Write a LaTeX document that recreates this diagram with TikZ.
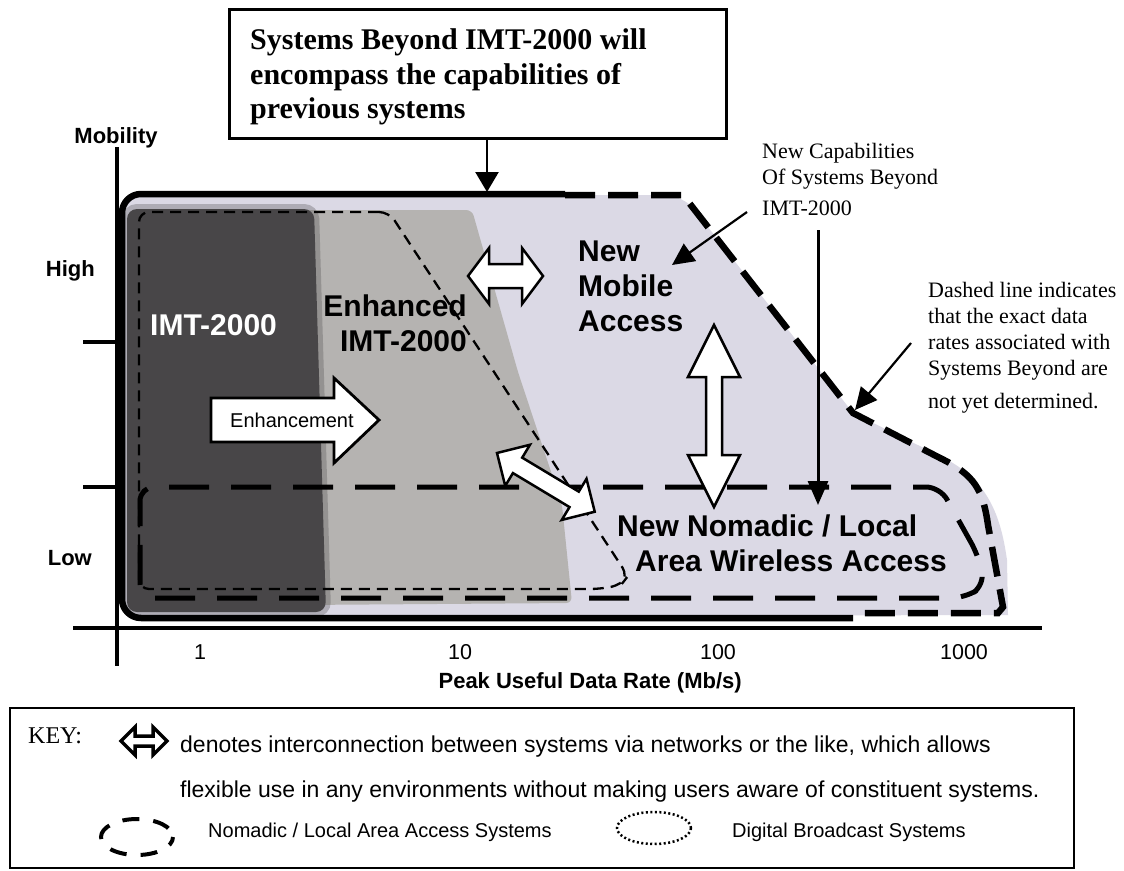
\documentclass[tikz,border=0pt]{standalone}
\usepackage{fontspec}
\setmainfont{Liberation Sans}
\newfontfamily\tnr{Liberation Serif}
\usetikzlibrary{arrows.meta}
\newcommand{\myfs}[2]{\fontsize{#1}{#2}\selectfont}
\definecolor{lightfill}{RGB}{219,217,229}
\definecolor{midgrey}{RGB}{181,179,177}
\definecolor{darkgrey}{RGB}{72,70,72}
\begin{document}
\begin{tikzpicture}[x=1pt,y=-1pt,
  lbl/.style={inner sep=0pt},
  hollow/.style={draw=black, fill=white, line join=miter},
  framesolid/.style={line width=6.5pt},
  outerdash/.style={line width=6.5pt, dash pattern=on 30pt off 13pt},
  nomdash/.style={line width=5pt, dash pattern=on 40pt off 22pt},
  enhdash/.style={line width=2.3pt, dash pattern=on 11pt off 7pt},
  axis/.style={line width=4pt},
  pointer/.style={line width=2.2pt, -{Triangle[length=22pt,width=21pt]}},
  bigsans/.style={lbl, font=\bfseries\myfs{30}{35}},
  serifnote/.style={lbl, font=\tnr\myfs{22}{26}, align=left, anchor=north west},
  axlbl/.style={lbl, font=\bfseries\myfs{22}{26}},
  ticklbl/.style={lbl, font=\myfs{21.5}{26}, anchor=base},
  keytxt/.style={lbl, font=\myfs{20}{24}, anchor=base west},
  keybig/.style={lbl, font=\myfs{23}{27}, anchor=base west},
  pics/dblarr/.style args={#1/#2/#3/#4}{code={%
    \draw[hollow] (0,0) -- (#4,#3) -- (#4,#2) -- ({#1-#4},#2) -- ({#1-#4},#3) -- (#1,0)
      -- ({#1-#4},-#3) -- ({#1-#4},-#2) -- (#4,-#2) -- (#4,-#3) -- cycle;}}
]
\useasboundingbox (0,0) rectangle (1124,870);
\fill[white] (0,0) rectangle (1124,870);

% ---------- shaded regions ----------
\fill[lightfill] (122,420) [rounded corners=18] -- (122,195) -- (683,195) [sharp corners] -- (853,413)
  -- (940,456) .. controls (985,478) and (1000,510) .. (1007,560) -- (1008,615) [rounded corners=18] -- (122,617) -- cycle;
\fill[midgrey, rounded corners=6] (300,210) -- (472,210) -- (518,372) -- (562,505) -- (572,603) -- (300,605) -- cycle;
\draw[darkgrey, line width=10pt, opacity=0.3, rounded corners=10] (127,209) -- (314,209) -- (326,612) -- (127,612) -- cycle;
\fill[darkgrey, rounded corners=10] (127,209) -- (314,209) -- (326,612) -- (127,612) -- cycle;

% ---------- region boundaries ----------
\draw[enhdash, rounded corners=10] (389,212) -- (139,212) -- (139,589) -- (600,589) -- (621,585) -- (628,576) -- cycle;
\draw[nomdash, rounded corners=14] (140,540) -- (140,487) -- (940,487) -- (978,555) -- (985,585) -- (965,598) -- (140,598) -- cycle;
\draw[framesolid, rounded corners=19] (565,194) -- (122,194) -- (122,618) -- (853,618);
\draw[outerdash] (565,195) -- (683,195) -- (853,413) -- (940,458)
  .. controls (975,475) and (983,490) .. (988,525) -- (1003,607) -- (998,613) -- (860,613);

% ---------- axes ----------
\draw[axis] (117,147) -- (117,666);
\draw[axis] (73,628) -- (1042,628);
\draw[axis] (83,342) -- (117,342);
\draw[axis] (83,487) -- (117,487);
\node[axlbl, anchor=base] (mob) at (116,143) {Mobility};
\node[axlbl, anchor=base east] (high) at (95,276) {High};
\node[axlbl, anchor=base east] (low) at (92,565) {Low};
\node[ticklbl] (t1) at (200,659) {1};
\node[ticklbl] (t10) at (460,659) {10};
\node[ticklbl] (t100) at (718,659) {100};
\node[ticklbl] (t1000) at (964,659) {1000};
\node[axlbl, anchor=base east] (xlab) at (742,688) {Peak Useful Data Rate (Mb/s)};

% ---------- region labels ----------
\node[bigsans, anchor=base west, text=white] (imt) at (150,335) {IMT-2000};
\node[bigsans, anchor=north east, align=right] (enh) at (467,295) {Enhanced\\IMT-2000};
\node[bigsans, anchor=north west, align=left] (nma) at (578,240.5) {New\\Mobile\\Access};
\node[bigsans, anchor=north west, align=left] (nna) at (617,515) {New Nomadic / Local\\\hspace*{18pt}Area Wireless Access};

% ---------- hollow arrows ----------
\draw[hollow, line width=2.8pt] (211,398) -- (334,398) -- (334,378) -- (379,420) -- (334,463) -- (334,442) -- (211,442) -- cycle;
\node[lbl, font=\myfs{20}{24}, anchor=base west] (enht) at (230,427) {Enhancement};
\pic[line width=2.5pt] (harr) at (468,276) {dblarr=75/12/28/21};
\pic[line width=2.5pt, rotate=-90] (varr) at (714,325) {dblarr=182/8/26/52};
\pic[line width=2.5pt, rotate=-31] (darr) at (497,453) {dblarr=114/9/24/24};

% ---------- top box ----------
\node[draw, line width=3pt, minimum width=497pt, minimum height=129pt, inner sep=0pt] (sb) at (477.5,73.5) {};
\node[lbl, font=\tnr\bfseries\myfs{30}{34.5}, align=left, anchor=north west] (sbt) at (250,28.7)
  {Systems Beyond IMT-2000 will\\encompass the capabilities of\\previous systems};
\coordinate (ftop) at (487,192);
\draw[line width=2.5pt, -{Triangle[length=20pt,width=23pt]}] (sb.south -| ftop) -- (ftop);

% ---------- notes ----------
\node[serifnote] (nc) at (762,143) {New Capabilities\\Of Systems Beyond\\[5pt]IMT-2000};
\coordinate (ncs) at (747,212);
\coordinate (nce) at (672,265);
\draw[pointer] (ncs) -- (nce);
\coordinate (vs) at (818,230);
\coordinate (ve) at (818,505);
\draw[line width=3pt, -{Triangle[length=24pt,width=20pt]}] (vs) -- (ve);
\node[serifnote] (dl) at (928,282) {Dashed line indicates\\that the exact data\\rates associated with\\Systems Beyond are\\[7pt]not yet determined.};
\coordinate (dls) at (911,343);
\coordinate (dle) at (855,410);
\draw[pointer] (dls) -- (dle);

% ---------- key ----------
\node[draw, line width=2.5pt, minimum width=1064pt, minimum height=160pt, inner sep=0pt] (key) at (542,788) {};
\node[lbl, font=\tnr\myfs{24}{28}, anchor=base west] (keyl) at (28,743) {KEY:};
\pic[line width=3.5pt] (keyarr) at (121,741) {dblarr=46/5/14/14};
\node[keybig] (k1) at (180,752) {denotes interconnection between systems via networks or the like, which allows};
\node[keybig] (k2) at (180,797) {flexible use in any environments without making users aware of constituent systems.};
\draw[line width=4pt, dash pattern=on 17pt off 14pt, dash phase=8pt] (137,837) ellipse [x radius=36, y radius=18];
\node[keytxt] (k3) at (208,837) {Nomadic / Local Area Access Systems};
\draw[line width=2.5pt, dash pattern=on 2pt off 2.5pt] (654,828) ellipse [x radius=37, y radius=16];
\node[keytxt] (k4) at (732,837) {Digital Broadcast Systems};
\end{tikzpicture}
\end{document}
